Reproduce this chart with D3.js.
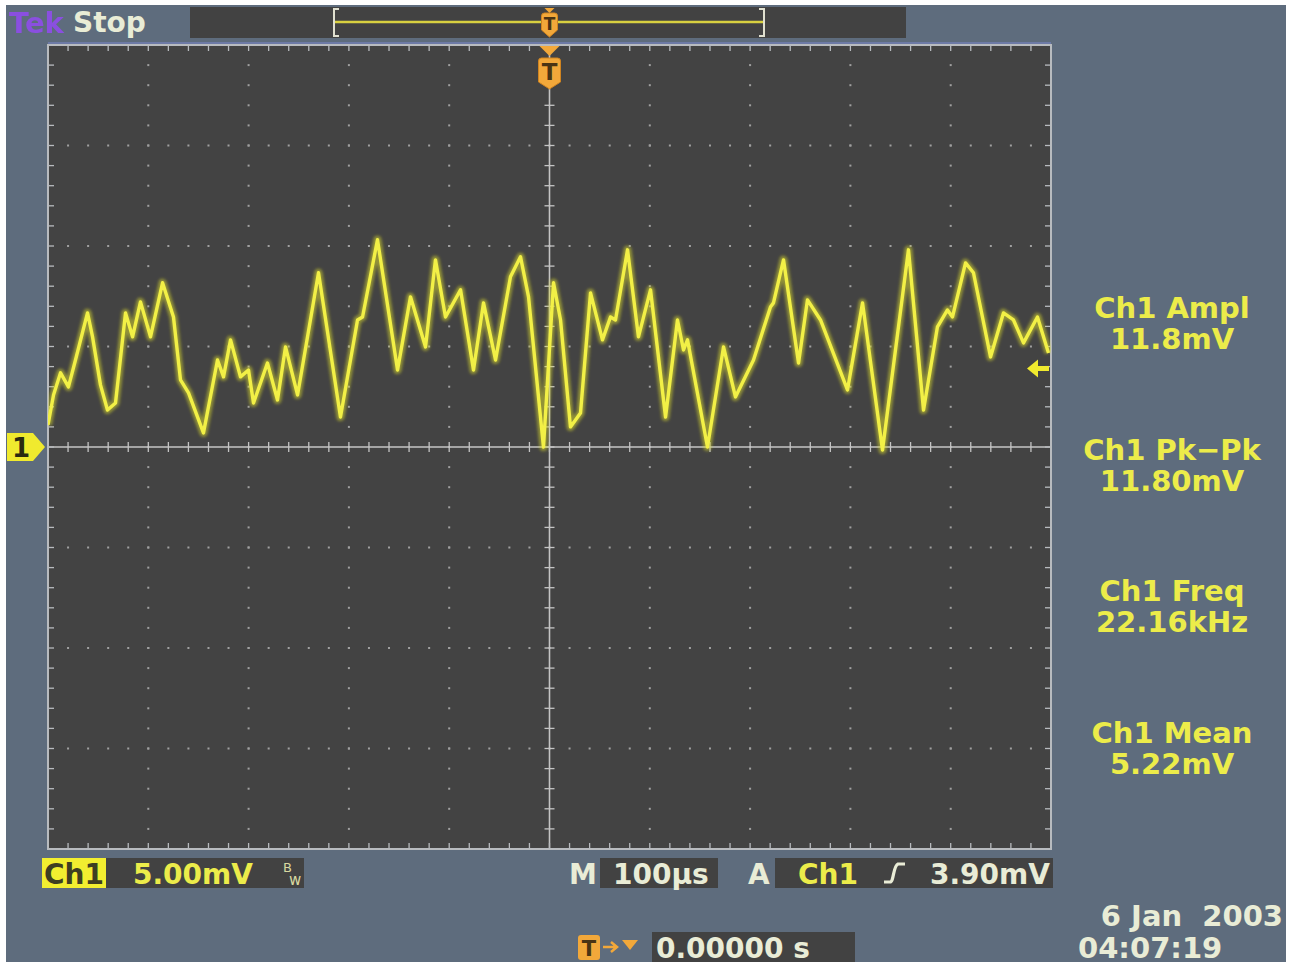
<!DOCTYPE html>
<html>
<head>
<meta charset="utf-8">
<script src="https://cdn.jsdelivr.net/npm/d3@7"></script>
<style>
  body { margin: 0; background: #ffffff; }
  svg { display: block; }
  text { font-family: "DejaVu Sans", sans-serif; }
</style>
</head>
<body>
<svg id="scope" width="1291" height="965"></svg>
<script>
// Channel 1 acquisition: time (µs from trigger) and voltage (mV)
const timeUs = [
  -500, -494.5, -487.5, -479.6, -472.6, -460.6, -455.6, -447.7, -440.7, -432.7,
  -422.7, -415.7, -407.8, -397.8, -385.8, -374.9, -367.9, -359.9, -345.0, -331.0,
  -325.0, -318.0, -308.1, -300.1, -295.1, -281.2, -271.2, -263.2, -251.2, -230.3,
  -208.4, -191.4, -186.4, -171.5, -151.5, -138.6, -123.6, -113.7, -103.7, -88.7,
  -75.8, -65.8, -53.8, -38.9, -28.9, -20.9, -6.0, 4.0, 11.0, 20.9,
  30.9, 40.9, 52.8, 60.8, 65.8, 77.8, 88.7, 100.7, 115.7, 127.6,
  133.6, 137.6, 157.5, 173.5, 185.4, 203.4, 220.3, 223.3, 233.3, 248.3,
  257.2, 270.2, 297.1, 312.1, 332.0, 357.9, 372.9, 386.8, 396.8, 401.8,
  414.8, 422.7, 439.7, 452.6, 462.6, 472.6, 486.5, 497.5
];
const ch1mV = [
  1.10, 2.59, 3.69, 2.99, 4.33, 6.67, 5.48, 3.09, 1.84, 2.19,
  6.67, 5.48, 7.22, 5.48, 8.17, 6.47, 3.34, 2.69, 0.70, 4.33,
  3.49, 5.33, 3.49, 3.83, 2.19, 4.18, 2.34, 4.98, 2.59, 8.67,
  1.49, 6.32, 6.47, 10.31, 3.83, 7.47, 4.98, 9.31, 6.47, 7.82,
  3.83, 7.17, 4.33, 8.47, 9.46, 7.47, 0.00, 8.17, 6.32, 1.00,
  1.69, 7.67, 5.33, 6.47, 6.32, 9.81, 5.48, 7.82, 1.49, 6.32,
  4.83, 5.33, 0.00, 4.98, 2.49, 4.33, 6.97, 7.17, 9.31, 4.18,
  7.32, 6.32, 2.84, 7.17, -0.15, 9.81, 1.84, 5.98, 6.82, 6.47,
  9.16, 8.67, 4.48, 6.67, 6.32, 5.18, 6.47, 4.68
];

// Automatic measurements shown in the side panel
const measureNames  = ["Ch1 Ampl", "Ch1 Pk\u2212Pk", "Ch1 Freq", "Ch1 Mean"];
const measureValues = ["11.8mV", "11.80mV", "22.16kHz", "5.22mV"];

// Instrument settings
const voltsPerDiv = 5.00;   // mV / div
const timePerDiv = 100;     // µs / div
const triggerLevel = 3.90;  // mV
const xDivs = 10, yDivs = 8;
const statusLabels = { scale: "5.00mV", timebase: "100\u00b5s", trigLevel: "3.90mV", trigPos: "0.00000 s" };
const dateLines = ["6 Jan  2003", "04:07:19"];

const svg = d3.select("#scope");

const area = { left: 48, right: 1051, top: 45, bottom: 849 };
const x = d3.scaleLinear()
  .domain([-xDivs / 2 * timePerDiv, xDivs / 2 * timePerDiv])
  .range([area.left, area.right]);
const y = d3.scaleLinear()
  .domain([-yDivs / 2 * voltsPerDiv, yDivs / 2 * voltsPerDiv])
  .range([area.bottom, area.top]);

const C = {
  bg: "#5e6c7d", panel: "#424242", grid: "#a0a0a0", axis: "#c4c4c4",
  frame: "#b8bbbf", yellow: "#eeee3a", text: "#e9ecd6", orange: "#f2a83a"
};

const defs = svg.append("defs");
defs.append("filter").attr("id", "glow").attr("x", "-5%").attr("y", "-5%").attr("width", "110%").attr("height", "110%")
  .append("feGaussianBlur").attr("stdDeviation", 1.8);
defs.append("filter").attr("id", "soft")
  .append("feGaussianBlur").attr("stdDeviation", 0.6);

// instrument background
svg.append("rect").attr("x", 6).attr("y", 5).attr("width", 1280).attr("height", 957).attr("fill", C.bg);

// ---- top status bar ----
svg.append("text").attr("x", 9).attr("y", 33).attr("font-size", 29).attr("font-weight", "bold")
  .attr("fill", "#8a4fe0").attr("filter", "url(#soft)").text("Tek");
svg.append("text").attr("x", 73).attr("y", 32).attr("font-size", 28).attr("font-weight", "bold")
  .attr("fill", C.text).text("Stop");
svg.append("rect").attr("x", 190).attr("y", 7).attr("width", 716).attr("height", 31).attr("fill", C.panel);

// record view: acquired window within memory
const recL = 334, recR = 764, recY = 22;
svg.append("line").attr("x1", recL).attr("x2", recR).attr("y1", recY).attr("y2", recY)
  .attr("stroke", "#d8d040").attr("stroke-width", 2.5);
svg.append("path").attr("d", `M${recL + 5},9 L${recL},9 L${recL},36 L${recL + 5},36`)
  .attr("fill", "none").attr("stroke", "#e0e0d0").attr("stroke-width", 2);
svg.append("path").attr("d", `M${recR - 5},9 L${recR},9 L${recR},36 L${recR - 5},36`)
  .attr("fill", "none").attr("stroke", "#e0e0d0").attr("stroke-width", 2);

function triggerBadge(cx, top, h, w, fs) {
  const g = svg.append("g");
  g.append("path")
    .attr("d", `M${cx - w / 2},${top + 3} Q${cx - w / 2},${top} ${cx - w / 2 + 3},${top} L${cx + w / 2 - 3},${top} Q${cx + w / 2},${top} ${cx + w / 2},${top + 3} L${cx + w / 2},${top + h - 7} L${cx},${top + h} L${cx - w / 2},${top + h - 7} Z`)
    .attr("fill", C.orange).attr("stroke", "#d08420").attr("stroke-width", 1);
  g.append("text").attr("x", cx).attr("y", top + h * 0.72).attr("text-anchor", "middle")
    .attr("font-size", fs).attr("font-weight", "bold").attr("fill", "#4a3414").text("T");
  return g;
}
// small trigger marker inside record view
svg.append("path").attr("d", `M${x(0) - 5},8 L${x(0) + 5},8 L${x(0)},13 Z`).attr("fill", C.orange);
triggerBadge(x(0), 13, 24, 16, 17);

// ---- graticule ----
svg.append("line").attr("x1", area.left).attr("x2", area.right).attr("y1", area.top - 2).attr("y2", area.top - 2)
  .attr("stroke", "#6d7aa6").attr("stroke-width", 2);
svg.append("rect").attr("x", area.left).attr("y", area.top)
  .attr("width", area.right - area.left).attr("height", area.bottom - area.top).attr("fill", "#434343");

const grid = svg.append("g");
const minorT = d3.range(-500, 500.01, timePerDiv / 5);
const minorV = d3.range(-20, 20.01, voltsPerDiv / 5);
const majorT = d3.range(-400, 400.01, timePerDiv).filter(t => t !== 0);
const majorV = d3.range(-15, 15.01, voltsPerDiv).filter(v => v !== 0);

// dotted division lines
majorT.forEach(t => {
  grid.selectAll(null).data(minorV).enter().append("rect")
    .attr("x", x(t) - 1).attr("y", v => y(v) - 1).attr("width", 2).attr("height", 2).attr("fill", C.grid);
});
majorV.forEach(v => {
  grid.selectAll(null).data(minorT).enter().append("rect")
    .attr("x", t => x(t) - 1).attr("y", y(v) - 1).attr("width", 2).attr("height", 2).attr("fill", C.grid);
});

// centre cross with minor ticks
grid.append("line").attr("x1", area.left).attr("x2", area.right).attr("y1", y(0)).attr("y2", y(0))
  .attr("stroke", C.axis).attr("stroke-width", 1.6);
grid.append("line").attr("x1", x(0)).attr("x2", x(0)).attr("y1", area.top).attr("y2", area.bottom)
  .attr("stroke", C.axis).attr("stroke-width", 1.6);
grid.selectAll(null).data(minorT).enter().append("line")
  .attr("x1", t => x(t)).attr("x2", t => x(t)).attr("y1", y(0) - 5).attr("y2", y(0) + 5)
  .attr("stroke", C.axis).attr("stroke-width", 1.3);
grid.selectAll(null).data(minorV).enter().append("line")
  .attr("y1", v => y(v)).attr("y2", v => y(v)).attr("x1", x(0) - 5).attr("x2", x(0) + 5)
  .attr("stroke", C.axis).attr("stroke-width", 1.3);

// frame ticks
grid.selectAll(null).data(minorT).enter().append("line")
  .attr("x1", t => x(t)).attr("x2", t => x(t)).attr("y1", area.top).attr("y2", area.top + 6)
  .attr("stroke", C.frame).attr("stroke-width", 1.3);
grid.selectAll(null).data(minorT).enter().append("line")
  .attr("x1", t => x(t)).attr("x2", t => x(t)).attr("y1", area.bottom - 6).attr("y2", area.bottom)
  .attr("stroke", C.frame).attr("stroke-width", 1.3);
grid.selectAll(null).data(minorV).enter().append("line")
  .attr("y1", v => y(v)).attr("y2", v => y(v)).attr("x1", area.left).attr("x2", area.left + 6)
  .attr("stroke", C.frame).attr("stroke-width", 1.3);
grid.selectAll(null).data(minorV).enter().append("line")
  .attr("y1", v => y(v)).attr("y2", v => y(v)).attr("x1", area.right - 6).attr("x2", area.right)
  .attr("stroke", C.frame).attr("stroke-width", 1.3);
svg.append("rect").attr("x", area.left).attr("y", area.top)
  .attr("width", area.right - area.left).attr("height", area.bottom - area.top)
  .attr("fill", "none").attr("stroke", C.frame).attr("stroke-width", 2);

// trigger position marker on graticule
svg.append("path").attr("d", `M${x(0) - 10},46 L${x(0) + 10},46 L${x(0)},56 Z`).attr("fill", C.orange);
triggerBadge(x(0), 58, 31, 22, 23);

// ---- waveform ----
const samples = timeUs.map((t, i) => ({ t, v: ch1mV[i] }));
const line = d3.line().x(d => x(d.t)).y(d => y(d.v));
const clip = defs.append("clipPath").attr("id", "screen");
clip.append("rect").attr("x", area.left).attr("y", area.top)
  .attr("width", area.right - area.left).attr("height", area.bottom - area.top);
const wave = svg.append("g").attr("clip-path", "url(#screen)");
wave.append("path").datum(samples).attr("d", line)
  .attr("fill", "none").attr("stroke", "#e2e22a").attr("stroke-width", 8).attr("stroke-opacity", 0.5)
  .attr("stroke-linejoin", "round").attr("filter", "url(#glow)");
wave.append("path").datum(samples).attr("d", line)
  .attr("fill", "none").attr("stroke", "#f2f046").attr("stroke-width", 3.4)
  .attr("stroke-linejoin", "round");

// ground reference marker for channel 1
const gy = y(0);
svg.append("path").attr("d", `M7,${gy - 14} L33,${gy - 14} L45,${gy} L33,${gy + 14} L7,${gy + 14} Z`)
  .attr("fill", "#f0ea2e");
svg.append("text").attr("x", 21).attr("y", gy + 10).attr("text-anchor", "middle")
  .attr("font-size", 26).attr("font-weight", "bold").attr("fill", "#2a2a10").text("1");

// trigger level arrow
const ty = y(triggerLevel);
svg.append("path").attr("d", `M1027,${ty} L1038,${ty - 9} L1038,${ty - 2.5} L1049,${ty - 2.5} L1049,${ty + 2.5} L1038,${ty + 2.5} L1038,${ty + 9} Z`)
  .attr("fill", "#f0ea2e");

// ---- measurement panel ----
const meas = svg.append("g").attr("font-size", 29).attr("font-weight", "bold").attr("fill", "#ecec4a")
  .attr("text-anchor", "middle");
measureNames.forEach((n, i) => {
  const base = 318 + i * 141.7;
  meas.append("text").attr("x", 1172).attr("y", base).text(n);
  meas.append("text").attr("x", 1172).attr("y", base + 31).text(measureValues[i]);
});

// ---- bottom status bar ----
const by = 858, bh = 30, bb = 884, fs = 28;
const status = svg.append("g").attr("font-size", fs).attr("font-weight", "bold");
status.append("rect").attr("x", 42).attr("y", by).attr("width", 64).attr("height", bh).attr("fill", "#f2ee30");
status.append("text").attr("x", 44).attr("y", bb).attr("fill", "#3e3e22").text("Ch1");
status.append("rect").attr("x", 106).attr("y", by).attr("width", 198).attr("height", bh).attr("fill", C.panel);
status.append("text").attr("x", 133).attr("y", bb).attr("fill", "#ecec4a").text(statusLabels.scale);
status.append("text").attr("x", 283).attr("y", 872).attr("font-size", 13).attr("font-weight", "normal").attr("fill", "#d8d8a0").text("B");
status.append("text").attr("x", 289).attr("y", 885).attr("font-size", 15).attr("font-weight", "normal").attr("fill", "#d8d8a0").text("w");

status.append("text").attr("x", 569).attr("y", bb).attr("fill", C.text).text("M");
status.append("rect").attr("x", 600).attr("y", by).attr("width", 118).attr("height", bh).attr("fill", C.panel);
status.append("text").attr("x", 613).attr("y", bb).attr("fill", C.text).text(statusLabels.timebase);

status.append("text").attr("x", 748).attr("y", bb).attr("fill", C.text).text("A");
status.append("rect").attr("x", 775).attr("y", by).attr("width", 278).attr("height", bh).attr("fill", C.panel);
status.append("text").attr("x", 798).attr("y", bb).attr("fill", "#ecec4a").text("Ch1");
status.append("path").attr("d", "M884,882 L890,882 C894,882 893,866 898,864 L905,864")
  .attr("fill", "none").attr("stroke", C.text).attr("stroke-width", 3.2);
status.append("text").attr("x", 930).attr("y", bb).attr("fill", C.text).text(statusLabels.trigLevel);

// trigger position readout
status.append("rect").attr("x", 578).attr("y", 935).attr("width", 22).attr("height", 25).attr("rx", 3).attr("fill", C.orange);
status.append("text").attr("x", 589).attr("y", 956).attr("text-anchor", "middle").attr("font-size", 21)
  .attr("fill", "#4a3414").text("T");
status.append("path").attr("d", "M603,947 L616,947 M611,942 L617,947 L611,952").attr("fill", "none")
  .attr("stroke", C.orange).attr("stroke-width", 2.5);
status.append("path").attr("d", "M622,940 L638,940 L630,950 Z").attr("fill", C.orange);
status.append("rect").attr("x", 652).attr("y", 932).attr("width", 203).attr("height", 30).attr("fill", C.panel);
status.append("text").attr("x", 656).attr("y", 958).attr("fill", C.text).text(statusLabels.trigPos);

// date / time
status.append("text").attr("x", 1283).attr("y", 926).attr("text-anchor", "end").attr("font-size", 29)
  .attr("fill", C.text).style("white-space", "pre").text(dateLines[0]);
status.append("text").attr("x", 1078).attr("y", 958).attr("font-size", 29).attr("fill", C.text).text(dateLines[1]);
</script>
</body>
</html>
